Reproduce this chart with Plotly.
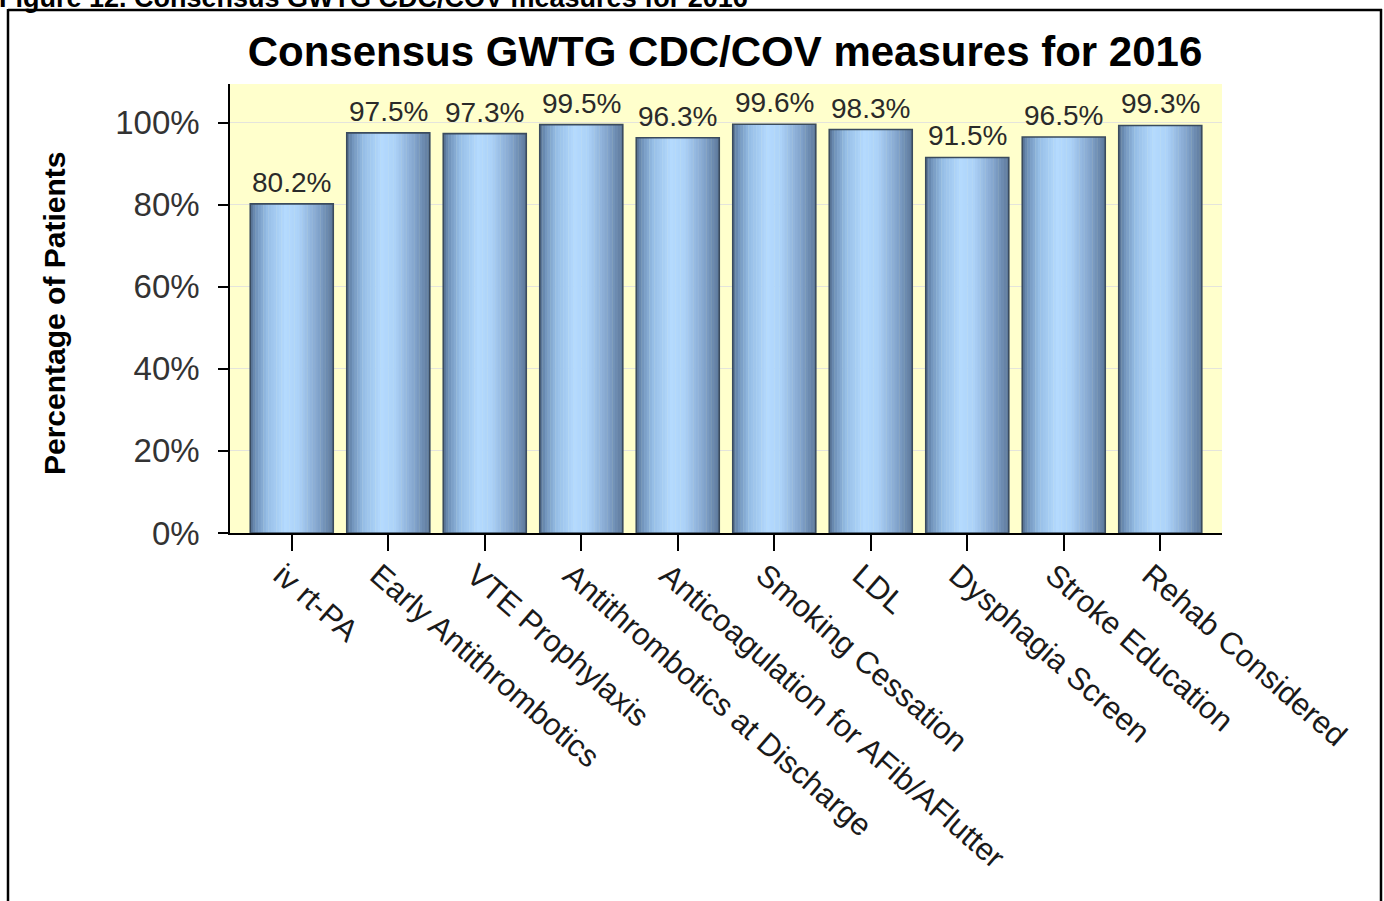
import plotly.graph_objects as go

# ---------------- data ----------------
categories = [
    "iv rt-PA",
    "Early Antithrombotics",
    "VTE Prophylaxis",
    "Antithrombotics at Discharge",
    "Anticoagulation for AFib/AFlutter",
    "Smoking Cessation",
    "LDL",
    "Dysphagia Screen",
    "Stroke Education",
    "Rehab Considered",
]
values = [80.2, 97.5, 97.3, 99.5, 96.3, 99.6, 98.3, 91.5, 96.5, 99.3]
value_labels = ["80.2%", "97.5%", "97.3%", "99.5%", "96.3%", "99.6%", "98.3%", "91.5%", "96.5%", "99.3%"]
y_tick_values = [0, 20, 40, 60, 80, 100]
y_tick_labels = ["0%", "20%", "40%", "60%", "80%", "100%"]

chart_title = "Consensus GWTG CDC/COV measures for 2016"
figure_caption = "Figure 12. Consensus GWTG CDC/COV measures for 2016"
y_title = "Percentage of Patients"

# ---------------- layout geometry (pixels) ----------------
W_PX, H_PX = 1384, 901
PL, PR, PT, PB = 230, 1222, 84, 533
pw, ph = PR - PL, PB - PT


def px_x(p):
    return (p - PL) / pw


def px_y(p):
    return (PB - p) / ph


FONT = "Liberation Sans, Arial, sans-serif"

# gradient across each bar (position, rgb)
stops = [
    (0.00, (84, 110, 144)),
    (0.06, (110, 144, 184)),
    (0.20, (150, 190, 230)),
    (0.42, (180, 218, 254)),
    (0.58, (172, 210, 248)),
    (0.82, (130, 164, 204)),
    (1.00, (92, 120, 154)),
]


def grad(t):
    for (t0, c0), (t1, c1) in zip(stops[:-1], stops[1:]):
        if t0 <= t <= t1:
            f = (t - t0) / (t1 - t0) if t1 > t0 else 0
            c = [round(a + (b - a) * f) for a, b in zip(c0, c1)]
            return "rgb(%d,%d,%d)" % tuple(c)
    return "rgb(%d,%d,%d)" % stops[-1][1]


BAR_W = 0.86
N = 32
fig = go.Figure()
for i in range(N):
    t = (i + 0.5) / N
    fig.add_trace(go.Bar(
        x=categories, y=values,
        width=BAR_W / N + 0.004,
        offset=-BAR_W / 2 + i * BAR_W / N,
        marker=dict(color=grad(t), line=dict(width=0)),
        hoverinfo="skip", showlegend=False,
    ))

fig.add_trace(go.Bar(
    x=categories, y=values, width=BAR_W,
    marker=dict(color="rgba(0,0,0,0)", line=dict(color="#3a4b5e", width=1.6)),
    showlegend=False,
))

annotations = []
for c, v, lab in zip(categories, values, value_labels):
    annotations.append(dict(
        x=c, y=v, xref="x", yref="y", text=lab, showarrow=False,
        yanchor="bottom", yshift=4,
        font=dict(family=FONT, size=28, color="#2a2a2a"),
    ))

annotations.append(dict(
    x=px_x(54), y=px_y(314),
    xref="paper", yref="paper", text="<b>%s</b>" % y_title, textangle=-90,
    showarrow=False, xanchor="center", yanchor="middle",
    font=dict(family=FONT, size=30, color="#000"),
))

annotations.append(dict(
    x=px_x(-3), y=px_y(15), xref="paper", yref="paper",
    text="<b>%s</b>" % figure_caption, showarrow=False,
    xanchor="left", yanchor="bottom",
    font=dict(family=FONT, size=27, color="#000"),
))

shapes = [
    dict(type="line", xref="paper", yref="paper",
         x0=px_x(8), x1=px_x(8), y0=px_y(9), y1=px_y(920),
         line=dict(color="#000", width=2.5)),
    dict(type="line", xref="paper", yref="paper",
         x0=px_x(8), x1=px_x(1382), y0=px_y(10), y1=px_y(10),
         line=dict(color="#000", width=2.5)),
    dict(type="line", xref="paper", yref="paper",
         x0=px_x(1381), x1=px_x(1381), y0=px_y(9), y1=px_y(920),
         line=dict(color="#000", width=2.5)),
]

fig.update_layout(
    width=W_PX, height=H_PX,
    barmode="overlay",
    paper_bgcolor="white",
    plot_bgcolor="#FFFFCC",
    margin=dict(l=PL, r=W_PX - PR, t=PT, b=H_PX - PB, pad=0),
    title=dict(
        text="<b>%s</b>" % chart_title,
        x=725 / W_PX, xref="container", xanchor="center",
        y=1 - 51 / H_PX, yref="container", yanchor="middle",
        font=dict(family=FONT, size=42, color="#000"),
    ),
    annotations=annotations,
    shapes=shapes,
    font=dict(family=FONT),
)

fig.update_xaxes(
    range=[-0.64, 9.64],
    showline=True, linecolor="#000", linewidth=1.5,
    ticks="outside", ticklen=16, tickcolor="#000", tickwidth=1.5,
    tickangle=41,
    ticklabelshift=-10, ticklabelstandoff=-6,
    tickfont=dict(family=FONT, size=31, color="#1a1a1a"),
    showgrid=False, automargin=False, zeroline=False,
)
fig.update_yaxes(
    range=[0, 109.4],
    tickvals=y_tick_values, ticktext=y_tick_labels,
    showline=True, linecolor="#000", linewidth=1.5,
    ticks="outside", ticklen=10, tickcolor="#000", tickwidth=1.5,
    ticklabelstandoff=12,
    tickfont=dict(family=FONT, size=33, color="#333"),
    showgrid=True, gridcolor="#e4e4dc", gridwidth=1,
    zeroline=False, automargin=False,
)

fig.write_html(
    "out.html",
    config={"displayModeBar": False},
    post_script="document.body.style.margin='0';document.body.style.overflow='hidden';",
)
